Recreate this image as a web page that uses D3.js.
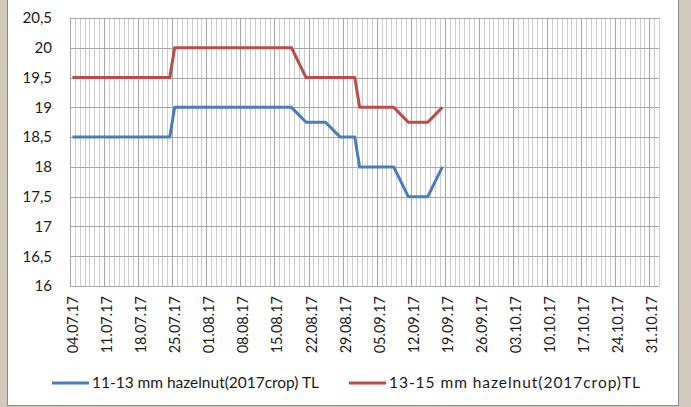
<!DOCTYPE html>
<html>
<head>
<meta charset="utf-8">
<script src="https://cdn.jsdelivr.net/npm/d3@7"></script>
<style>
  body { margin: 0; background: #d3c9bc; }
  text { font-family: Lato, "Open Sans", sans-serif; fill: #1a1a1a; }
</style>
</head>
<body>
<script>
// business days with prices
var dates = [
  "04.07.17","05.07.17","06.07.17","07.07.17","10.07.17","11.07.17","12.07.17","13.07.17","14.07.17",
  "17.07.17","18.07.17","19.07.17","20.07.17","21.07.17","24.07.17","25.07.17","26.07.17","27.07.17",
  "28.07.17","31.07.17","01.08.17","02.08.17","03.08.17","04.08.17","07.08.17","08.08.17","09.08.17",
  "10.08.17","11.08.17","14.08.17","15.08.17","16.08.17","17.08.17","18.08.17","21.08.17","22.08.17",
  "23.08.17","24.08.17","25.08.17","28.08.17","29.08.17","30.08.17","31.08.17","01.09.17","04.09.17",
  "05.09.17","06.09.17","07.09.17","08.09.17","11.09.17","12.09.17","13.09.17","14.09.17","15.09.17",
  "18.09.17"
];

var small = [
  18.5,18.5,18.5,18.5,18.5,18.5,18.5,18.5,18.5,18.5,18.5,18.5,18.5,18.5,18.5,
  19,19,19,19,19,19,19,19,19,19,19,19,19,19,19,19,19,19,19,
  18.75,18.75,18.75,18.75,18.75,
  18.5,18.5,18.5,18.5,
  18,18,18,18,18,18,
  17.5,17.5,17.5,17.5,17.5,
  18
];

var large = [
  19.5,19.5,19.5,19.5,19.5,19.5,19.5,19.5,19.5,19.5,19.5,19.5,19.5,19.5,19.5,
  20,20,20,20,20,20,20,20,20,20,20,20,20,20,20,20,20,20,20,
  19.5,19.5,19.5,19.5,19.5,19.5,19.5,19.5,19.5,
  19,19,19,19,19,19,
  18.75,18.75,18.75,18.75,18.75,
  19
];

var seriesNames = ["11-13 mm hazelnut(2017crop) TL", "13-15 mm hazelnut(2017crop)TL"];
var seriesColors = ["#4a7ebb", "#be4b48"];

var xTickLabels = [
  "04.07.17","11.07.17","18.07.17","25.07.17","01.08.17","08.08.17","15.08.17","22.08.17","29.08.17",
  "05.09.17","12.09.17","19.09.17","26.09.17","03.10.17","10.10.17","17.10.17","24.10.17","31.10.17"
];
var yTicks = [16, 16.5, 17, 17.5, 18, 18.5, 19, 19.5, 20, 20.5];

var axisStart = "04.07.17";
var axisEnd = "02.11.17";

window.onload = function(){
  var w = 691;
  var h = 407;
  var plot = { left: 70, right: 659, top: 18, bottom: 286 };

  var parse = d3.utcParse("%d.%m.%y");
  var fmt = d3.utcFormat("%d.%m.%y");
  var half = 12 * 3600 * 1000;
  var mid = function(s){ return new Date(parse(s).getTime() + half); };

  var x = d3.scaleUtc()
            .domain([parse(axisStart), parse(axisEnd)])
            .range([plot.left, plot.right]);

  var y = d3.scaleLinear()
            .domain([16, 20.5])
            .range([plot.bottom, plot.top]);

  var svg = d3.select("body").append("svg")
              .attr("width", w)
              .attr("height", h);

  // white chart area with frame
  svg.append("rect")
    .attr("x", 7.5)
    .attr("y", -2)
    .attr("width", 671)
    .attr("height", 407.5)
    .style("fill", "#fff")
    .style("stroke", "#8a8a8a");

  var grid = svg.append("g");

  // daily vertical lines, darker every week
  var days = d3.utcDay.range(parse(axisStart), new Date(parse(axisEnd).getTime() + 1));
  grid.selectAll(".vline")
    .data(days)
    .enter()
      .append("line")
      .classed("vline", true)
      .attr("x1", function(d){ return Math.round(x(d)) + 0.5; })
      .attr("x2", function(d){ return Math.round(x(d)) + 0.5; })
      .attr("y1", plot.top)
      .attr("y2", plot.bottom)
      .style("stroke", function(d,i){ return i % 7 === 0 ? "#a6a6a6" : "#cccccc"; })
      .style("stroke-width", 1);

  grid.selectAll(".hline")
    .data(yTicks)
    .enter()
      .append("line")
      .classed("hline", true)
      .attr("x1", plot.left)
      .attr("x2", plot.right)
      .attr("y1", function(d){ return Math.round(y(d)) + 0.5; })
      .attr("y2", function(d){ return Math.round(y(d)) + 0.5; })
      .style("stroke", "#a6a6a6");

  // y axis
  var yAxis = svg.append("g")
    .attr("transform", "translate(" + plot.left + ",0)")
    .call(d3.axisLeft(y)
      .tickValues(yTicks)
      .tickSize(0)
      .tickPadding(18)
      .tickFormat(function(d){ return String(d).replace(".", ","); }));
  yAxis.select(".domain").remove();
  yAxis.selectAll("text").style("font-size", "15px").style("font-family", "Lato");

  // x axis
  var xAxis = svg.append("g")
    .attr("transform", "translate(0," + plot.bottom + ")")
    .call(d3.axisBottom(x)
      .tickValues(xTickLabels.map(mid))
      .tickSize(0)
      .tickFormat(fmt));
  xAxis.select(".domain").remove();
  xAxis.selectAll("text")
    .style("text-anchor", "end")
    .style("font-size", "14.5px")
    .style("font-family", "Lato")
    .attr("x", -10)
    .attr("y", 0)
    .attr("dy", "0.35em")
    .attr("transform", "rotate(-90)");

  // lines
  var line = d3.line()
    .x(function(d){ return x(mid(d.date)); })
    .y(function(d){ return y(d.value); });

  [small, large].forEach(function(vals, k){
    var pts = dates.map(function(dt, i){ return {date: dt, value: vals[i]}; });
    svg.append("path")
      .datum(pts)
      .attr("d", line)
      .style("fill", "none")
      .style("stroke", seriesColors[k])
      .style("stroke-width", 3)
      .style("stroke-linejoin", "round");
  });

  // legend
  var legendX = [52, 349];
  var legendW = [227, 251];
  var legend = svg.selectAll(".legend")
    .data(seriesNames)
    .enter()
      .append("g")
      .classed("legend", true)
      .attr("transform", function(d,i){ return "translate(" + legendX[i] + ",383)"; });

  legend.append("line")
    .attr("x1", 0)
    .attr("x2", 37)
    .style("stroke", function(d,i){ return seriesColors[i]; })
    .style("stroke-width", 3);

  legend.append("text")
    .attr("x", 40)
    .attr("dy", "0.35em")
    .style("font-size", "15.5px")
    .attr("textLength", function(d,i){ return legendW[i]; })
    .attr("lengthAdjust", "spacing")
    .text(function(d){ return d; });
};
</script>
</body>
</html>
